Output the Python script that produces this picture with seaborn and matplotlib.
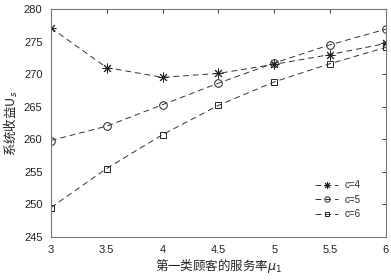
import matplotlib
matplotlib.use("Agg")
import matplotlib.pyplot as plt
import seaborn as sns
import pandas as pd

mu = [3, 3.5, 4, 4.5, 5, 5.5, 6]
c4 = [277.1, 271.0, 269.5, 270.1, 271.5, 273.0, 274.7]
c5 = [259.8, 262.0, 265.3, 268.6, 271.7, 274.5, 276.9]
c6 = [249.5, 255.5, 260.7, 265.2, 268.8, 271.6, 274.1]
labels = ["c=4", "c=5", "c=6"]
xticks = [3, 3.5, 4, 4.5, 5, 5.5, 6]
yticks = [245, 250, 255, 260, 265, 270, 275, 280]

sns.set_theme(style="white")
plt.rcParams['font.family'] = ['Liberation Sans', 'Noto Sans CJK SC', 'DejaVu Sans']

df = pd.DataFrame({"mu": mu * 3, "U": c4 + c5 + c6,
                   "c": [labels[0]] * 7 + [labels[1]] * 7 + [labels[2]] * 7})

fig, ax = plt.subplots(figsize=(3.91, 2.80), dpi=100)
fig.subplots_adjust(left=0.13, right=0.987, top=0.968, bottom=0.154)

markers = {"c=4": (8, 2, 0), "c=5": "o", "c=6": "s"}
sizes = {"c=4": 7, "c=5": 5.5, "c=6": 4.5}
for lab in labels:
    sub = df[df.c == lab]
    sns.lineplot(data=sub, x="mu", y="U", ax=ax, color="#333333", lw=0.7,
                 dashes=False, linestyle=(0, (6, 4)), marker=markers[lab],
                 markersize=sizes[lab], markerfacecolor="none",
                 markeredgecolor="#222222", markeredgewidth=0.7, label=lab)

ax.set_xlim(3, 6)
ax.set_ylim(245, 280)
ax.set_xticks(xticks)
ax.set_xticklabels([f"{v:g}" for v in xticks])
ax.set_yticks(yticks)
ax.tick_params(direction="in", top=True, right=True, length=3, width=0.6,
               labelsize=8, colors="#222222", pad=6)
for s in ax.spines.values():
    s.set_color("#777777")
    s.set_linewidth(0.8)
ax.set_xlabel("第一类顾客的服务率$\\mu_1$", fontsize=9, color="#222222",
              family=['Noto Sans CJK SC', 'DejaVu Sans'], labelpad=1)
ax.set_ylabel("系统收益U$_s$", fontsize=9, color="#222222",
              family=['Noto Sans CJK SC', 'DejaVu Sans'], labelpad=3)
leg = ax.legend(loc="lower right", frameon=False, fontsize=7,
                bbox_to_anchor=(0.95, 0.04), handlelength=2.4, labelspacing=0.45,
                handletextpad=0.6, markerscale=0.7)
fig.savefig("out.png", dpi=100)
